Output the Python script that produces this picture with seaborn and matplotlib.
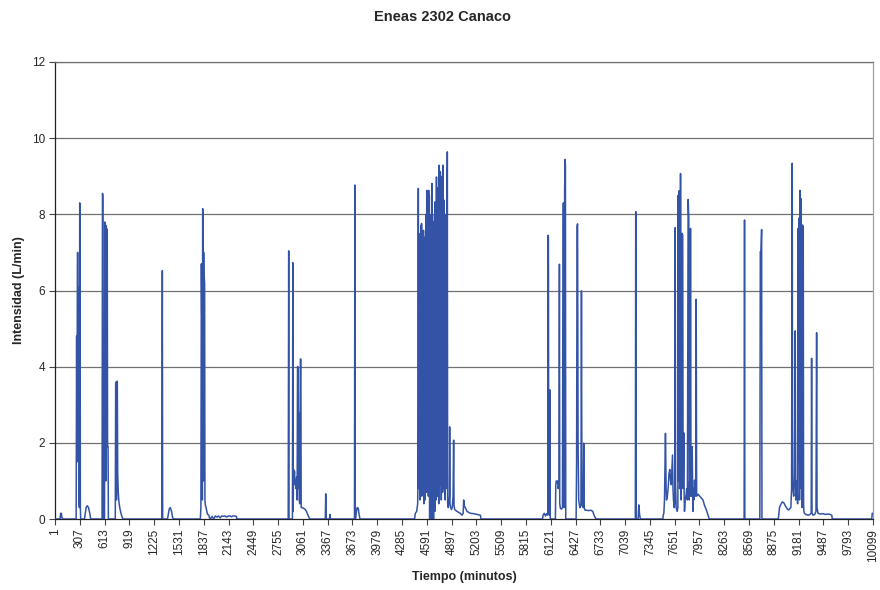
import numpy as np
import pandas as pd
import matplotlib
matplotlib.use("Agg")
import matplotlib.pyplot as plt
import seaborn as sns

# Flow-intensity record, minute by minute (L/min). Each episode lists its
# breakpoints (minute, value); outside the episodes the flow is zero.
ep01_t = [1, 65, 70, 80, 85, 95]
ep01_v = [0, 0, 0.15, 0.15, 0.05, 0]

ep02_t = [262, 268, 272, 276, 280, 284, 288, 292, 296, 302, 306, 310, 314, 318,
          365, 375, 385, 400, 415, 430, 442]
ep02_v = [0, 4.8, 1.5, 4.9, 7.0, 2.0, 6.1, 6.0, 0.5, 0.3, 8.3, 8.2, 0.3, 0,
          0, 0.15, 0.3, 0.35, 0.3, 0.15, 0]

ep03_t = [582, 587, 592, 598, 612, 616, 622, 628, 632, 640, 646, 650, 656, 660,
          745, 750, 756, 760, 764, 770, 775, 782, 790, 800, 815, 830, 840]
ep03_v = [0, 8.55, 8.5, 0, 0, 7.8, 7.75, 1.0, 7.7, 7.6, 7.6, 1.9, 1.9, 0,
          0, 3.55, 3.6, 0.5, 3.6, 3.62, 1.2, 0.7, 0.45, 0.3, 0.15, 0.05, 0]

ep04_t = [1320, 1326, 1330, 1390, 1400, 1412, 1425, 1440, 1452, 1460]
ep04_v = [0, 6.52, 0, 0, 0.12, 0.27, 0.3, 0.2, 0.05, 0]

ep05_t = [1795, 1802, 1808, 1812, 1816, 1820, 1824, 1828, 1832, 1836, 1840, 1844,
          1848, 1852, 1858, 1866, 1875, 1885, 1900, 1910, 1920, 1940, 1960,
          1980, 2000, 2020, 2040, 2060, 2080, 2100, 2120, 2140, 2160, 2180,
          2200, 2220, 2240, 2246]
ep05_v = [0, 0.3, 6.7, 5.4, 5.3, 0.5, 8.15, 8.0, 1.0, 7.0, 6.0, 6.3,
          6.2, 0.5, 0.35, 0.3, 0.2, 0.12, 0.1, 0.02, 0.0, 0.07, 0.0,
          0.08, 0.05, 0.08, 0.03, 0.08, 0.07, 0.08, 0.05, 0.08, 0.08, 0.06,
          0.08, 0.08, 0.07, 0]

ep06_t = [2880, 2886, 2890, 2932, 2937, 2941, 2946, 2952, 2958, 2964, 2970, 2976,
          2984, 2990, 2995, 3000, 3004, 3010, 3016, 3022, 3030, 3036, 3040,
          3050, 3070, 3090, 3105, 3120, 3135, 3145,
          3338, 3343, 3348, 3390, 3396, 3402]
ep06_v = [0, 7.04, 0, 0, 6.73, 0.2, 1.3, 1.1, 1.25, 0.9, 1.0, 0.8,
          1.1, 0.5, 4.0, 4.0, 0.8, 2.8, 0.5, 0.4, 4.2, 4.2, 0.3,
          0.3, 0.28, 0.25, 0.2, 0.12, 0.05, 0,
          0, 0.66, 0, 0, 0.12, 0]

ep07_t = [3698, 3703, 3707, 3712, 3722, 3732, 3745, 3755, 3766]
ep07_v = [0, 8.77, 0, 0, 0.2, 0.3, 0.28, 0.12, 0]

# Longest episode: rapid on/off cycling between about 4480 and 4850 min
ep08_t = [4440, 4449, 4466, 4478, 4482,
          4486, 4490, 4494, 4498, 4502, 4506, 4510, 4514, 4518, 4522, 4526, 4530,
          4534, 4538, 4542, 4546, 4550, 4554, 4558, 4562, 4566, 4570, 4574, 4578,
          4582, 4586, 4590, 4594, 4598, 4602, 4606, 4610, 4614, 4618, 4622, 4626,
          4630, 4634, 4638, 4642, 4646, 4650, 4654, 4658, 4662, 4666, 4670, 4674,
          4678, 4682, 4686, 4690, 4694, 4698, 4702, 4706, 4710, 4714, 4718, 4722,
          4726, 4730, 4734, 4738, 4742, 4746, 4750, 4754, 4758, 4762, 4766, 4770,
          4774, 4778, 4782, 4786, 4790, 4794, 4798, 4802, 4806, 4810, 4814, 4818,
          4822, 4826, 4830, 4834, 4838, 4841, 4844, 4848,
          4856, 4864, 4870, 4873, 4877, 4885, 4895, 4905, 4915, 4922, 4927, 4935,
          4950, 4964, 4985, 5005, 5025, 5040, 5046, 5052, 5066, 5087, 5128, 5170,
          5211, 5252, 5260]
ep08_v = [0, 0.15, 0.2, 0.4, 1.0,
          8.68, 0.8, 7.3, 1.2, 2.0, 0.5, 7.5, 1.0, 7.7, 1.4, 7.76, 0.6,
          6.0, 1.2, 7.2, 0.9, 7.58, 0.4, 7.4, 1.1, 5.0, 0.5, 3.0, 1.0,
          8.0, 0.7, 8.63, 1.5, 7.0, 0.8, 8.2, 0.6, 8.63, 1.2, 8.5, 0.0,
          6.5, 0.3, 2.0, 0.0, 8.0, 1.3, 8.81, 0.6, 7.06, 0.0, 3.5, 0.0,
          7.8, 0.9, 8.0, 0.2, 8.33, 1.0, 7.5, 0.5, 8.98, 1.4, 8.7, 0.6,
          7.0, 1.0, 8.5, 0.4, 9.29, 1.5, 8.0, 0.9, 9.12, 1.2, 9.0, 0.5,
          7.5, 1.3, 8.8, 0.7, 9.29, 1.6, 8.0, 0.8, 8.37, 1.1, 7.5, 0.5,
          6.0, 1.2, 8.0, 0.9, 9.2, 0.8, 9.64, 0.4,
          0.3, 0.5, 0.6, 2.42, 0.4, 0.3, 0.25, 0.3, 0.6, 2.07, 0.35, 0.25,
          0.22, 0.2, 0.17, 0.15, 0.1, 0.15, 0.5, 0.35, 0.3, 0.2, 0.15, 0.14,
          0.12, 0.1, 0]

ep09_t = [6020, 6026, 6040, 6055, 6070, 6080, 6084, 6088, 6092, 6096, 6104, 6110,
          6114, 6117, 6178, 6183, 6190, 6199, 6206, 6212, 6222, 6228, 6232,
          6240, 6255, 6265, 6273, 6280, 6286, 6292, 6298, 6302, 6306,
          6434, 6440, 6446, 6452, 6458, 6466, 6480, 6494, 6500, 6506, 6514,
          6522, 6528, 6534, 6545, 6565, 6590, 6615, 6640, 6652, 6668, 6681]
ep09_v = [0, 0.1, 0.15, 0.08, 0.14, 0.1, 0.12, 7.45, 7.4, 0.2, 0.1, 3.39,
          0.1, 0, 0, 0.9, 1.0, 0.95, 1.0, 0.8, 0.9, 6.69, 0.4,
          0.28, 0.26, 0.3, 8.29, 8.3, 0.3, 8.6, 9.44, 9.3, 0,
          0, 1.5, 7.69, 7.75, 2.0, 0.5, 0.3, 0.35, 5.99, 0.5, 0.35,
          0.3, 1.99, 0.3, 0.23, 0.23, 0.22, 0.23, 0.2, 0.12, 0.04, 0]

ep10_t = [7165, 7170, 7175, 7200, 7208, 7218, 7228]
ep10_v = [0, 8.07, 0, 0, 0.37, 0.1, 0]

ep11_t = [7505, 7509, 7517, 7525, 7537, 7545, 7550, 7560, 7570, 7581, 7591, 7600,
          7609, 7616, 7624, 7630, 7636, 7645, 7652, 7657, 7662, 7669, 7682, 7690,
          7694, 7698, 7706, 7712, 7718, 7723, 7727, 7731, 7736, 7743, 7750, 7755,
          7764, 7768, 7772, 7780, 7790, 7800, 7808, 7817, 7825, 7830, 7836, 7841,
          7846, 7852, 7858, 7867, 7875, 7882, 7888, 7896, 7904, 7910, 7916, 7922,
          7930, 7940, 7960, 7980, 8000, 8020, 8040, 8060, 8077]
ep11_v = [0, 0.1, 0.15, 0.5, 2.25, 0.8, 0.5, 0.6, 0.8, 1.2, 1.3, 1.0,
          0.9, 1.3, 1.68, 0.8, 0.5, 0.3, 0.5, 7.65, 0.9, 0.3, 0.2, 0.3,
          8.5, 1.0, 8.62, 0.8, 1.2, 9.07, 0.6, 0.5, 1.5, 7.5, 7.45, 0.8,
          2.26, 0.6, 0.2, 0.5, 0.6, 0.8, 0.5, 8.39, 7.9, 0.5, 1.0, 0.6,
          7.63, 1.0, 0.6, 1.9, 0.2, 0.8, 0.5, 1.02, 0.6, 0.7, 5.77, 0.6,
          0.62, 0.65, 0.6, 0.55, 0.5, 0.35, 0.25, 0.12, 0]

ep12_t = [8508, 8513, 8517, 8702, 8708, 8716, 8724, 8728]
ep12_v = [0, 7.85, 0, 0, 7.02, 7.0, 7.6, 0]

ep13_t = [8930, 8945, 8958, 8980, 9000, 9015, 9030, 9045, 9060, 9075, 9085, 9094,
          9102, 9106, 9110, 9120, 9128, 9139, 9145, 9152, 9160, 9168, 9176, 9182,
          9186, 9192, 9197, 9202, 9206, 9210, 9214, 9218, 9224, 9230, 9234, 9238,
          9242, 9246, 9252, 9270, 9300, 9320, 9336, 9341, 9346, 9360, 9380, 9395,
          9403, 9408, 9420, 9450, 9480, 9510, 9540, 9570, 9590, 9597]
ep13_v = [0, 0.3, 0.37, 0.45, 0.42, 0.35, 0.3, 0.25, 0.24, 0.28, 0.3, 0.8,
          9.34, 1.15, 0.8, 0.6, 1.0, 4.94, 0.5, 0.7, 1.0, 0.4, 7.63, 1.5,
          7.9, 0.5, 8.63, 8.4, 1.2, 8.41, 0.8, 7.2, 0.3, 7.72, 1.0, 7.67,
          0.4, 0.2, 0.15, 0.12, 0.1, 0.12, 0.15, 4.22, 0.15, 0.1, 0.12, 0.2,
          4.89, 0.3, 0.15, 0.13, 0.14, 0.12, 0.13, 0.12, 0.1, 0]

ep14_t = [10084, 10090, 10099]
ep14_v = [0, 0.15, 0.15]

tick_minutes = list(range(1, 10100, 306))

episodes_t = [ep01_t, ep02_t, ep03_t, ep04_t, ep05_t, ep06_t, ep07_t, ep08_t,
              ep09_t, ep10_t, ep11_t, ep12_t, ep13_t, ep14_t]
episodes_v = [ep01_v, ep02_v, ep03_v, ep04_v, ep05_v, ep06_v, ep07_v, ep08_v,
              ep09_v, ep10_v, ep11_v, ep12_v, ep13_v, ep14_v]

df = pd.DataFrame({
    "minuto": np.concatenate([np.asarray(t, float) for t in episodes_t]),
    "intensidad": np.concatenate([np.asarray(v, float) for v in episodes_v]),
})

sns.set_theme(style="white")
plt.rcParams["font.family"] = ["Liberation Sans", "DejaVu Sans"]

fig = plt.figure(figsize=(8.8, 5.9), dpi=100)
ax = fig.add_axes([55 / 880, 1 - 519 / 590, (873 - 55) / 880, (519 - 62) / 590])

sns.lineplot(data=df, x="minuto", y="intensidad", ax=ax, sort=False,
             estimator=None, color="#3353A6", linewidth=1.1, zorder=3)

ax.set_xlim(1, 10099)
ax.set_ylim(0, 12)
ax.set_yticks(range(0, 13, 2))
ax.set_xticks(tick_minutes)
ax.set_xticklabels([str(m) for m in tick_minutes], rotation=90, fontsize=8.5)
ax.tick_params(axis="y", labelsize=8.5, length=4, width=0.8, color="#444444",
               direction="out", pad=3, left=True)
ax.tick_params(axis="x", length=4, width=0.8, color="#444444",
               direction="out", pad=3, bottom=True)

for yv in range(2, 13, 2):
    ax.axhline(yv, color="#707070", linewidth=0.9, zorder=1)

for side in ("left", "bottom"):
    ax.spines[side].set_color("#222222")
    ax.spines[side].set_linewidth(0.9)
ax.spines["right"].set_color("#a0a0a0")
ax.spines["right"].set_linewidth(0.9)
ax.spines["top"].set_color("#707070")
ax.spines["top"].set_linewidth(0.9)

ax.set_xlabel("Tiempo (minutos)", fontsize=9, fontweight="bold", labelpad=7)
ax.set_ylabel("Intensidad (L/min)", fontsize=9, fontweight="bold", labelpad=5)
fig.text(442 / 880, 1 - 17 / 590, "Eneas 2302 Canaco", ha="center", va="center",
         fontsize=10.5, fontweight="bold")

fig.savefig("out.png", dpi=100)
